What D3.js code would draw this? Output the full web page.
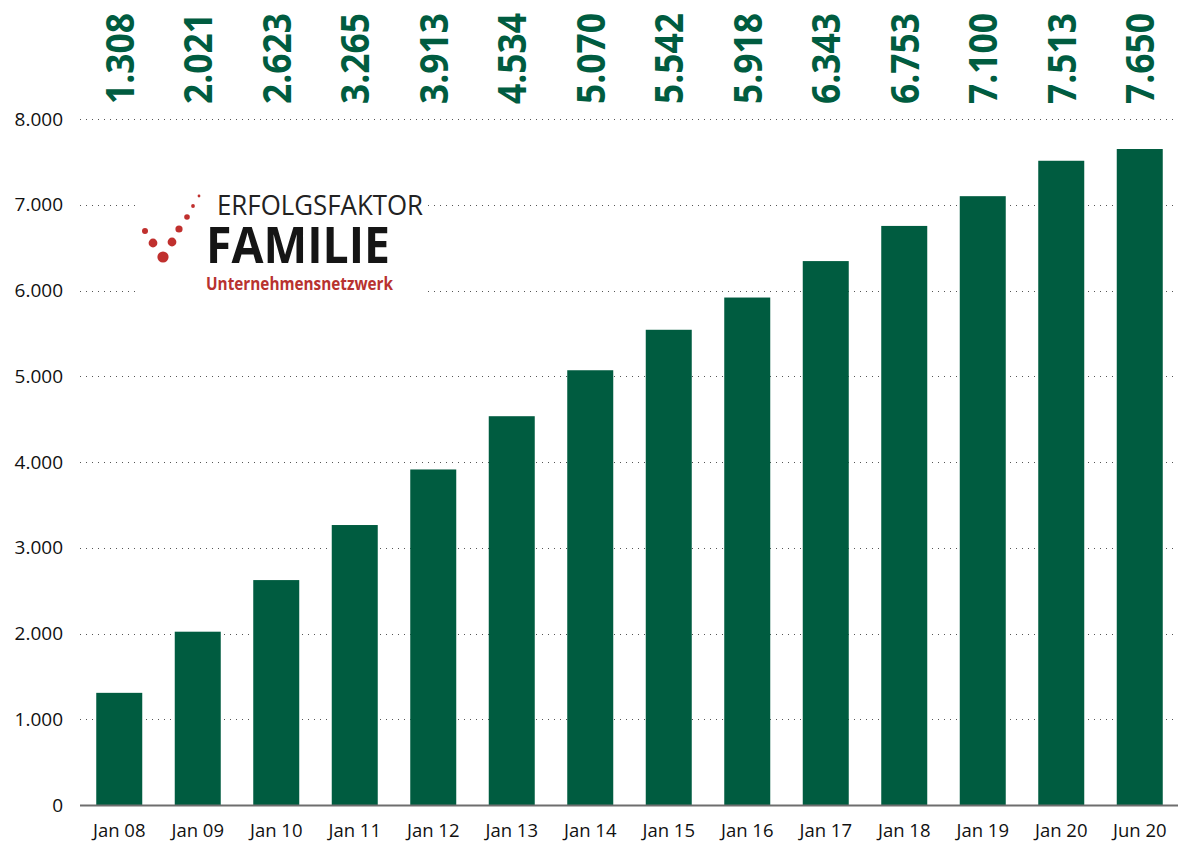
<!DOCTYPE html>
<html>
<head>
<meta charset="utf-8">
<script src="https://cdn.jsdelivr.net/npm/d3@7"></script>
<style>
  html, body { margin: 0; padding: 0; background: #fff; }
  svg { display: block; }
</style>
</head>
<body>
<svg id="chart" width="1178" height="841"></svg>
<script>
// Member companies of the network over time
const categories = ["Jan 08","Jan 09","Jan 10","Jan 11","Jan 12","Jan 13","Jan 14","Jan 15","Jan 16","Jan 17","Jan 18","Jan 19","Jan 20","Jun 20"];
const members = [1308, 2021, 2623, 3265, 3913, 4534, 5070, 5542, 5918, 6343, 6753, 7100, 7513, 7650];
const yTicks = [0, 1000, 2000, 3000, 4000, 5000, 6000, 7000, 8000];

const green = "#005c40";
const fmt = d3.formatLocale({ decimal: ",", thousands: ".", grouping: [3], currency: ["", "€"] }).format(",d");

const svg = d3.select("#chart");
const plot = { left: 80, right: 1179, top: 119, bottom: 805 };

const x = d3.scaleBand()
  .domain(categories)
  .range([plot.left, plot.right])
  .paddingInner(0.414)
  .paddingOuter(0.207);

const y = d3.scaleLinear()
  .domain([0, 8000])
  .range([plot.bottom, plot.top]);

// dotted gridlines
svg.append("g")
  .selectAll("line")
  .data(yTicks.filter(d => d > 0))
  .join("line")
  .attr("x1", plot.left)
  .attr("x2", 1178)
  .attr("y1", d => Math.round(y(d)) + 0.5)
  .attr("y2", d => Math.round(y(d)) + 0.5)
  .attr("stroke", "#555")
  .attr("stroke-width", 1)
  .attr("stroke-dasharray", "1,5");

// y tick labels
svg.append("g")
  .selectAll("text")
  .data(yTicks)
  .join("text")
  .attr("x", 63)
  .attr("y", d => y(d))
  .attr("dy", "0.35em")
  .attr("text-anchor", "end")
  .attr("font-family", "'Open Sans', sans-serif")
  .attr("font-size", 19)
  .attr("fill", "#111")
  .text(d => fmt(d));

// network logo on a white backdrop
const logo = svg.append("g");
logo.append("rect")
  .attr("x", 135).attr("y", 184).attr("width", 292).attr("height", 114)
  .attr("fill", "#fff");
const dots = [[145,231,3.0],[153,243,4.4],[163,257,5.6],[172,242,4.4],[179,229,3.6],[187,217,2.8],[193,206,1.9],[199,196,1.4]];
logo.selectAll("circle")
  .data(dots)
  .join("circle")
  .attr("cx", d => d[0]).attr("cy", d => d[1]).attr("r", d => d[2])
  .attr("fill", "#c0302e");
logo.append("text")
  .attr("x", 217).attr("y", 215)
  .attr("font-family", "'Open Sans', sans-serif")
  .attr("font-size", 28)
  .attr("fill", "#222")
  .attr("textLength", 206)
  .attr("lengthAdjust", "spacingAndGlyphs")
  .text("ERFOLGSFAKTOR");
logo.append("text")
  .attr("x", 206).attr("y", 263)
  .attr("font-family", "'Open Sans', sans-serif")
  .attr("font-weight", 700)
  .attr("font-size", 50)
  .attr("fill", "#151515")
  .attr("textLength", 184)
  .attr("lengthAdjust", "spacingAndGlyphs")
  .text("FAMILIE");
logo.append("text")
  .attr("x", 206).attr("y", 290)
  .attr("font-family", "'Open Sans', sans-serif")
  .attr("font-weight", 700)
  .attr("font-size", 18)
  .attr("fill", "#b8322f")
  .attr("textLength", 187)
  .attr("lengthAdjust", "spacingAndGlyphs")
  .text("Unternehmensnetzwerk");

// bars
svg.append("g")
  .selectAll("rect")
  .data(members)
  .join("rect")
  .attr("x", (d, i) => x(categories[i]))
  .attr("y", d => y(d))
  .attr("width", x.bandwidth())
  .attr("height", d => plot.bottom - y(d))
  .attr("fill", green);

// baseline
svg.append("line")
  .attr("x1", plot.left).attr("x2", 1178)
  .attr("y1", plot.bottom + 0.5).attr("y2", plot.bottom + 0.5)
  .attr("stroke", "#6e6e6e")
  .attr("stroke-width", 2);

// x axis labels
svg.append("g")
  .selectAll("text")
  .data(categories)
  .join("text")
  .attr("x", d => x(d) + x.bandwidth() / 2)
  .attr("y", 837)
  .attr("text-anchor", "middle")
  .attr("font-family", "'Open Sans', sans-serif")
  .attr("font-size", 18.5)
  .attr("fill", "#111")
  .text(d => d);

// rotated value labels along the top
svg.append("g")
  .selectAll("text")
  .data(members)
  .join("text")
  .attr("transform", (d, i) => `translate(${x(categories[i]) + x.bandwidth() / 2},104) rotate(-90)`)
  .attr("dy", "0.36em")
  .attr("text-anchor", "start")
  .attr("font-family", "'Open Sans', sans-serif")
  .attr("font-weight", 700)
  .attr("font-size", 40)
  .attr("fill", green)
  .attr("textLength", 91)
  .attr("lengthAdjust", "spacingAndGlyphs")
  .text(d => fmt(d));
</script>
</body>
</html>
